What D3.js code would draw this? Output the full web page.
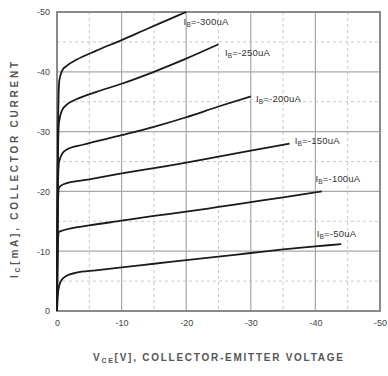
<!DOCTYPE html>
<html>
<head>
<meta charset="utf-8">
<script src="https://cdn.jsdelivr.net/npm/d3@7"></script>
<style>
  body { margin: 0; background: #fff; }
  svg { display: block; font-family: "Liberation Sans", Arial, sans-serif; }
</style>
</head>
<body>
<script>
// Axis ticks (values in V and mA, both negative for a PNP device)
const xTicks = [0, -10, -20, -30, -40, -50];
const yTicks = [0, -10, -20, -30, -40, -50];
const xTickLabels = ["0", "-10", "-20", "-30", "-40", "-50"];
const yTickLabels = ["0", "-10", "-20", "-30", "-40", "-50"];

// Base current of each curve
const baseCurrents = ["-300", "-250", "-200", "-150", "-100", "-50"];

// Curve points [VCE, IC]
const curve300 = [[0, 0], [-0.15, -30], [-0.35, -38.5], [-0.8, -40.2], [-1.5, -41], [-3, -42], [-6, -43.5], [-10, -45.3], [-14, -47.2], [-17, -48.6], [-20, -50]];
const curve250 = [[0, 0], [-0.1, -22], [-0.3, -31.5], [-0.8, -33.6], [-1.5, -34.5], [-3, -35.4], [-6, -36.6], [-10, -38], [-15, -40], [-20, -42.2], [-25, -44.6]];
const curve200 = [[0, 0], [-0.1, -18], [-0.3, -24.8], [-0.8, -26.3], [-1.5, -27], [-4, -27.8], [-10, -29.4], [-15, -30.8], [-20, -32.4], [-25, -34.2], [-30, -35.9]];
const curve150 = [[0, 0], [-0.1, -15], [-0.3, -20.6], [-1, -21.2], [-5, -22], [-10, -23], [-15, -23.9], [-20, -24.8], [-25, -25.8], [-30, -26.8], [-36, -28]];
const curve100 = [[0, 0], [-0.1, -10], [-0.3, -13.2], [-1, -13.5], [-5, -14.3], [-10, -15.1], [-15, -15.9], [-20, -16.6], [-25, -17.4], [-30, -18.2], [-35, -19], [-41, -20]];
const curve50 = [[0, 0], [-0.2, -3.5], [-0.6, -5], [-1.5, -5.9], [-3, -6.4], [-6, -6.8], [-10, -7.3], [-15, -7.9], [-20, -8.5], [-25, -9.1], [-30, -9.7], [-35, -10.3], [-40, -10.8], [-44, -11.2]];
const curves = [curve300, curve250, curve200, curve150, curve100, curve50];

// Label anchor points [VCE, IC] for each curve label
const labelPos = [[-19.6, -47.8], [-26, -42.7], [-30.8, -35], [-36.8, -28], [-40, -21.6], [-40.2, -12.4]];

const W = 388, H = 376;
const margin = { top: 12, right: 8, bottom: 65, left: 57 };
const width = W - margin.left - margin.right;
const height = H - margin.top - margin.bottom;

const svg = d3.select("body")
  .append("svg")
  .attr("width", W)
  .attr("height", H);

const g = svg.append("g")
  .attr("transform", `translate(${margin.left},${margin.top})`);

const x = d3.scaleLinear().domain([0, -50]).range([0, width]);
const y = d3.scaleLinear().domain([0, -50]).range([height, 0]);

// Minor dashed grid every 5
const minor = d3.range(-5, -50, -10);
g.selectAll(".minor-x").data(minor).enter().append("line")
  .attr("x1", d => x(d)).attr("x2", d => x(d))
  .attr("y1", 0).attr("y2", height)
  .attr("stroke", "#c8c8c8").attr("stroke-width", 1)
  .attr("stroke-dasharray", "3,3");
g.selectAll(".minor-y").data(minor).enter().append("line")
  .attr("y1", d => y(d)).attr("y2", d => y(d))
  .attr("x1", 0).attr("x2", width)
  .attr("stroke", "#c8c8c8").attr("stroke-width", 1)
  .attr("stroke-dasharray", "3,3");

// Major grid every 10
const major = [-10, -20, -30, -40];
g.selectAll(".major-x").data(major).enter().append("line")
  .attr("x1", d => x(d)).attr("x2", d => x(d))
  .attr("y1", 0).attr("y2", height)
  .attr("stroke", "#a8a8a8").attr("stroke-width", 1.2);
g.selectAll(".major-y").data(major).enter().append("line")
  .attr("y1", d => y(d)).attr("y2", d => y(d))
  .attr("x1", 0).attr("x2", width)
  .attr("stroke", "#a8a8a8").attr("stroke-width", 1.2);

// Frame
g.append("rect")
  .attr("x", 0).attr("y", 0)
  .attr("width", width).attr("height", height)
  .attr("fill", "none")
  .attr("stroke", "#8a8a8a")
  .attr("stroke-width", 2);

// Tick labels
const xAxis = g.append("g")
  .attr("transform", `translate(0,${height})`)
  .call(d3.axisBottom(x).tickValues(xTicks).tickSize(0).tickPadding(9)
    .tickFormat((d, i) => xTickLabels[i]));
const yAxis = g.append("g")
  .call(d3.axisLeft(y).tickValues(yTicks).tickSize(0).tickPadding(7)
    .tickFormat((d, i) => yTickLabels[i]));
[xAxis, yAxis].forEach(a => {
  a.select(".domain").remove();
  a.selectAll("text")
    .attr("font-size", 9)
    .attr("fill", "#444")
    .attr("font-family", "Liberation Sans, Arial, sans-serif");
});

// Curves
const line = d3.line()
  .x(d => x(d[0]))
  .y(d => y(d[1]))
  .curve(d3.curveMonotoneX);

g.selectAll(".curve").data(curves).enter().append("path")
  .attr("d", d => line(d.slice().reverse()))
  .attr("fill", "none")
  .attr("stroke", "#1a1a1a")
  .attr("stroke-width", 1.8);

// Curve labels
const labels = g.selectAll(".lbl").data(baseCurrents).enter().append("text")
  .attr("x", (d, i) => x(labelPos[i][0]))
  .attr("y", (d, i) => y(labelPos[i][1]))
  .attr("font-size", 9.5)
  .attr("letter-spacing", 0.2)
  .attr("fill", "#333");
labels.append("tspan").text("I");
labels.append("tspan").attr("font-size", 6.5).attr("dy", 2).text("B");
labels.append("tspan").attr("dy", -2).text(d => "=" + d + "uA");

// Axis titles
const xt = svg.append("text")
  .attr("x", 218).attr("y", 361)
  .attr("text-anchor", "middle")
  .attr("font-size", 10)
  .attr("font-weight", "bold")
  .attr("fill", "#555")
  .attr("textLength", 250)
  .attr("lengthAdjust", "spacing");
xt.append("tspan").text("V");
xt.append("tspan").attr("font-size", 7).attr("dy", 2).text("CE");
xt.append("tspan").attr("dy", -2).text("[V], COLLECTOR-EMITTER VOLTAGE");

const yt = svg.append("text")
  .attr("transform", "translate(18,170) rotate(-90)")
  .attr("text-anchor", "middle")
  .attr("font-size", 10)
  .attr("font-weight", "bold")
  .attr("fill", "#555")
  .attr("textLength", 216)
  .attr("lengthAdjust", "spacing");
yt.append("tspan").text("I");
yt.append("tspan").attr("font-size", 7).attr("dy", 2).text("C");
yt.append("tspan").attr("dy", -2).text("[mA], COLLECTOR CURRENT");
</script>
</body>
</html>
